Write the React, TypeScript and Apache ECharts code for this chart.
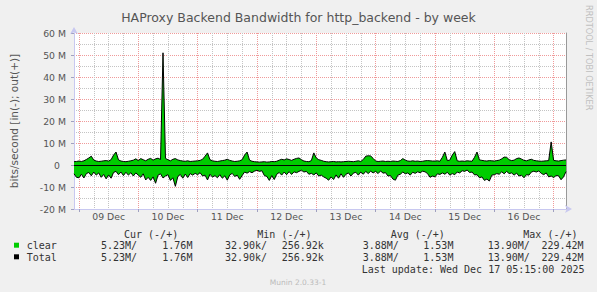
import React, { useEffect, useRef } from 'react';
import * as echarts from 'echarts';

// hours relative to 09 Dec 00:00, one value per hour starting at START_HOUR
const START_HOUR = -2;

// out (+) bandwidth, Mbit/s
const outMbps = [
  1.5, 1.6,
  1.8, 1.6, 1.9, 2.5, 3.2, 4.0, 2.2, 1.8, 1.6, 1.7, 1.9, 2.0, 1.8, 2.4, 4.5, 5.9, 2.3, 1.8, 1.6, 1.5, 1.7, 1.9, 2.2, 2.8,
  2.0, 2.9, 2.4, 1.9, 2.6, 3.0, 2.2, 2.8, 3.1, 2.5, 51.0, 3.0, 2.4, 1.9, 2.6, 2.9, 2.3, 2.0, 1.8, 1.7, 1.9, 1.6, 1.7, 1.8,
  1.9, 2.1, 2.6, 4.0, 5.5, 2.4, 1.9, 1.7, 1.6, 1.8, 2.0, 2.2, 2.6, 2.1, 1.8, 1.6, 1.7, 1.9, 2.4, 4.5, 5.9, 2.2, 1.7, 1.5,
  1.4, 1.3, 1.4, 1.5, 1.3, 1.4, 1.6, 1.5, 1.7, 2.2, 2.6, 2.3, 2.8, 2.5, 2.1, 2.6, 3.0, 3.2, 2.4, 1.8, 1.6, 1.5, 2.0, 5.5,
  3.2, 2.4, 2.1, 1.7, 1.5, 1.4, 1.5, 1.6, 1.4, 1.5, 1.4, 1.5, 1.6, 1.7, 1.6, 1.5, 1.7, 1.9, 1.6, 2.5, 4.0, 4.2, 4.1, 3.0,
  1.8, 1.6, 1.7, 1.8, 1.6, 1.7, 1.6, 1.8, 1.7, 1.6, 2.0, 2.9, 2.2, 1.8, 1.7, 1.9, 1.7, 1.8, 1.6, 1.7, 1.9, 2.0, 1.9, 1.8,
  1.8, 1.9, 1.7, 3.5, 5.9, 2.0, 2.2, 4.5, 6.1, 1.9, 1.7, 1.8, 1.7, 1.9, 1.8, 1.7, 3.5, 5.9, 2.3, 2.1, 1.9, 1.8, 2.0, 1.9,
  1.8, 2.0, 2.2, 2.8, 3.6, 3.5, 2.4, 2.0, 2.2, 2.9, 3.2, 2.7, 2.1, 1.9, 2.3, 2.6, 2.1, 1.9, 1.8, 1.7, 1.8, 1.9, 2.0, 10.5,
  2.1, 1.9, 1.8, 2.0, 2.2, 2.3,
];

// in (-) bandwidth, Mbit/s (drawn below zero)
const inMbps = [
  4.0, 5.6,
  5.8, 4.2, 5.9, 3.9, 3.4, 4.9, 3.2, 4.6, 3.6, 5.6, 4.3, 6.3, 4.5, 6.0, 3.4, 2.9, 4.4, 3.2, 4.8, 3.3, 4.6, 3.5, 5.0, 3.6,
  4.6, 5.6, 4.0, 6.8, 5.6, 7.0, 5.4, 8.3, 4.6, 4.0, 5.9, 5.0, 4.4, 7.0, 5.8, 9.7, 5.2, 4.3, 6.0, 4.1, 5.7, 3.9, 4.6, 3.8,
  4.4, 3.5, 5.0, 4.6, 6.8, 4.2, 5.5, 4.8, 5.8, 4.4, 6.0, 4.9, 6.9, 4.5, 3.8, 5.2, 4.6, 6.5, 4.8, 3.2, 3.7, 3.0, 3.5, 2.8,
  2.4, 2.9, 2.6, 4.8, 5.2, 7.0, 4.8, 6.6, 4.2, 3.4, 4.6, 3.2, 4.4, 3.0, 4.3, 3.1, 3.5, 2.9, 2.4, 3.2, 2.9, 4.2, 3.8, 4.5,
  3.6, 5.0, 4.6, 5.4, 6.0, 6.9, 5.4, 6.6, 4.5, 6.0, 4.0, 5.6, 4.2, 3.6, 5.0, 3.7, 3.3, 4.6, 3.2, 4.2, 2.9, 3.9, 2.8, 3.6,
  2.9, 3.9, 2.7, 3.7, 3.5, 5.0, 4.8, 6.4, 6.9, 4.6, 4.2, 3.2, 4.0, 3.6, 4.6, 3.3, 3.8, 3.1, 3.5, 2.8, 3.1, 3.9, 5.6, 5.0,
  5.4, 4.0, 4.3, 3.6, 4.2, 3.3, 4.6, 3.9, 4.4, 3.2, 3.6, 2.6, 2.9, 2.3, 3.4, 3.2, 4.5, 4.4, 5.8, 5.4, 7.0, 6.4, 7.3, 4.6,
  4.4, 3.9, 4.2, 3.1, 4.0, 2.9, 3.9, 3.6, 4.6, 3.7, 5.0, 4.6, 5.8, 4.4, 4.6, 3.2, 2.8, 3.2, 2.7, 3.8, 4.4, 3.6, 5.4, 5.0,
  5.7, 4.8, 4.9, 6.7, 5.4, 3.0,
];

const X_MIN = -2;
const X_MAX = 197;

const dayLabels = ['09 Dec', '10 Dec', '11 Dec', '12 Dec', '13 Dec', '14 Dec', '15 Dec', '16 Dec'];
const dayLabelHours = [12, 36, 60, 84, 108, 132, 156, 180];
const dayBoundaryHours = [0, 24, 48, 72, 96, 120, 144, 168, 192];
const sixHourHours = [6, 12, 18, 30, 36, 42, 54, 60, 66, 78, 84, 90, 102, 108, 114, 126, 132, 138, 150, 156, 162, 174, 180, 186];

const titleText = 'HAProxy Backend Bandwidth for http_backend - by week';
const yAxisName = 'bits/second [in(-); out(+)]';
const legendHeaders = ['Cur (-/+)', 'Min (-/+)', 'Avg (-/+)', 'Max (-/+)'];
const legendNames = ['clear', 'Total'];
const clearStats = ['5.23M/', '1.76M', '32.90k/', '256.92k', '3.88M/', '1.53M', '13.90M/', '229.42M'];
const totalStats = ['5.23M/', '1.76M', '32.90k/', '256.92k', '3.88M/', '1.53M', '13.90M/', '229.42M'];
const lastUpdate = 'Last update: Wed Dec 17 05:15:00 2025';
const muninVersion = 'Munin 2.0.33-1';
const rrdCredit = 'RRDTOOL / TOBI OETIKER';

const GREEN = '#00cc00';
const RED_GRID = '#f09a9a';
const GRAY_GRID = '#c4c4c4';
const AXIS_BLUE = '#c8c8f0';
const MONO = '10px "DejaVu Sans Mono"';

export default function App() {
  const ref = useRef<HTMLDivElement>(null);

  useEffect(() => {
    if (!ref.current) return;
    const chart = echarts.init(ref.current, undefined, { renderer: 'svg' });

    const outData = outMbps.map((v, i) => [START_HOUR + i, v]);
    const inData = inMbps.map((v, i) => [START_HOUR + i, -v]);

    const dotted = [1, 1];

    const statCols = [101, 162.3, 225, 281.7, 362.7, 423.3, 487.7, 541.5];
    const headerCols = [124, 257.3, 390.7, 523.3];
    const rowY = [245.7, 257.3];
    const boxColors = [GREEN, '#000000'];
    const rowsStats = [clearStats, totalStats];

    const graphics: any[] = [];
    legendHeaders.forEach((t, i) => {
      graphics.push({
        type: 'text', x: headerCols[i], y: 234,
        style: { text: t, font: MONO, fill: '#333', verticalAlign: 'middle', textVerticalAlign: 'middle' },
      });
    });
    legendNames.forEach((n, r) => {
      graphics.push({
        type: 'rect', shape: { x: 14, y: rowY[r] - 3, width: 5, height: 5 },
        style: { fill: boxColors[r] },
      });
      graphics.push({
        type: 'text', x: 26.7, y: rowY[r],
        style: { text: n, font: MONO, fill: '#333', verticalAlign: 'middle', textVerticalAlign: 'middle' },
      });
      rowsStats[r].forEach((s, c) => {
        graphics.push({
          type: 'text', x: statCols[c], y: rowY[r],
          style: { text: s, font: MONO, fill: '#333', verticalAlign: 'middle', textVerticalAlign: 'middle' },
        });
      });
    });
    graphics.push({
      type: 'text', x: 361.7, y: 269.3,
      style: { text: lastUpdate, font: MONO, fill: '#333', verticalAlign: 'middle', textVerticalAlign: 'middle' },
    });
    graphics.push({
      type: 'text', x: 298, y: 282,
      style: { text: muninVersion, font: '7.5px "DejaVu Sans"', fill: '#bbbbbb', align: 'center', textAlign: 'center', verticalAlign: 'middle', textVerticalAlign: 'middle' },
    });
    graphics.push({
      type: 'text', x: 588.5, y: 5, rotation: -Math.PI / 2,
      style: { text: rrdCredit, font: '8.2px "DejaVu Sans"', fill: '#c0c0c0', align: 'left', textAlign: 'left', verticalAlign: 'middle', textVerticalAlign: 'middle' },
    });

    const option: any = {
      animation: false,
      backgroundColor: '#f0f0f0',
      title: {
        text: titleText,
        left: 'center',
        top: 6,
        textStyle: { fontFamily: 'DejaVu Sans', fontSize: 12.5, fontWeight: 'normal', color: '#555' },
      },
      grid: {
        left: 67, right: 31, top: 33, bottom: 83,
        show: true, backgroundColor: '#ffffff', borderWidth: 0,
      },
      xAxis: [
        {
          // minor 6-hour grid
          type: 'value',
          min: X_MIN,
          max: X_MAX,
          position: 'bottom',
          axisLine: { show: false },
          axisTick: { show: false, customValues: sixHourHours },
          axisLabel: { show: false, customValues: sixHourHours },
          splitLine: { show: true, lineStyle: { color: GRAY_GRID, type: dotted, width: 1 } },
        },
        {
          // day boundaries and labels
          type: 'value',
          min: X_MIN,
          max: X_MAX,
          position: 'bottom',
          axisLine: {
            show: true, onZero: false,
            lineStyle: { color: AXIS_BLUE, width: 1 },
            symbol: ['none', 'arrow'], symbolSize: [6, 7], symbolOffset: [0, 6],
          },
          axisTick: { show: true, customValues: dayBoundaryHours, length: 3, lineStyle: { color: '#a0a0c0' } },
          axisLabel: {
            customValues: dayLabelHours,
            formatter: (v: number) => dayLabels[dayLabelHours.indexOf(v)] ?? '',
            fontFamily: 'DejaVu Sans', fontSize: 9.3, color: '#555', margin: 3,
          },
          splitLine: { show: true, lineStyle: { color: RED_GRID, type: dotted, width: 1 } },
        },
      ],
      yAxis: [
        {
          // minor 5M grid
          type: 'value',
          min: -20, max: 60, interval: 5,
          position: 'left',
          axisLine: { show: false },
          axisTick: { show: false },
          axisLabel: { show: false },
          splitLine: { show: true, lineStyle: { color: GRAY_GRID, type: dotted, width: 1 } },
        },
        {
          type: 'value',
          min: -20, max: 60, interval: 10,
          position: 'left',
          name: yAxisName,
          nameLocation: 'middle',
          nameGap: 55,
          nameRotate: 90,
          nameTextStyle: { fontFamily: 'DejaVu Sans', fontSize: 10.5, color: '#555' },
          axisLine: {
            show: true, onZero: false,
            lineStyle: { color: AXIS_BLUE, width: 1 },
            symbol: ['none', 'arrow'], symbolSize: [6, 7], symbolOffset: [0, 6],
          },
          axisTick: { show: true, length: 3, lineStyle: { color: '#a0a0c0' } },
          axisLabel: {
            fontFamily: 'DejaVu Sans', fontSize: 9.3, color: '#555', margin: 8,
            formatter: (v: number) => (v === 0 ? '{z|0}' : `${v} M`),
            rich: { z: { fontFamily: 'DejaVu Sans', fontSize: 9.3, color: '#555', padding: [0, 6, 0, 0] } },
          },
          splitLine: { show: true, lineStyle: { color: RED_GRID, type: dotted, width: 1 } },
        },
        {
          type: 'value',
          min: -20, max: 60,
          position: 'right',
          axisLine: { show: true, onZero: false, lineStyle: { color: '#999999', width: 1 } },
          axisTick: { show: false },
          axisLabel: { show: false },
          splitLine: { show: false },
        },
      ],
      graphic: graphics,
      series: [
        {
          name: 'clear',
          type: 'line',
          xAxisIndex: 1,
          yAxisIndex: 1,
          data: outData,
          showSymbol: false,
          lineStyle: { width: 0 },
          areaStyle: { color: GREEN, opacity: 1, origin: 0 },
          z: 2,
        },
        {
          name: 'clear',
          type: 'line',
          xAxisIndex: 1,
          yAxisIndex: 1,
          data: inData,
          showSymbol: false,
          lineStyle: { width: 0 },
          areaStyle: { color: GREEN, opacity: 1, origin: 0 },
          z: 2,
        },
        {
          name: 'Total',
          type: 'line',
          xAxisIndex: 1,
          yAxisIndex: 1,
          data: outData,
          showSymbol: false,
          lineStyle: { width: 1, color: '#000' },
          z: 3,
          markLine: {
            silent: true,
            symbol: ['none', 'none'],
            label: { show: false },
            animation: false,
            data: [{ yAxis: 0, lineStyle: { color: '#000', type: 'solid', width: 1 } }],
          },
        },
        {
          name: 'Total',
          type: 'line',
          xAxisIndex: 1,
          yAxisIndex: 1,
          data: inData,
          showSymbol: false,
          lineStyle: { width: 1, color: '#000' },
          z: 3,
        },
      ],
    };

    chart.setOption(option);
    return () => chart.dispose();
  }, []);

  return (
    <div
      ref={ref}
      style={{ position: 'fixed', left: 0, top: 0, width: 597, height: 292, background: '#f0f0f0' }}
    />
  );
}
